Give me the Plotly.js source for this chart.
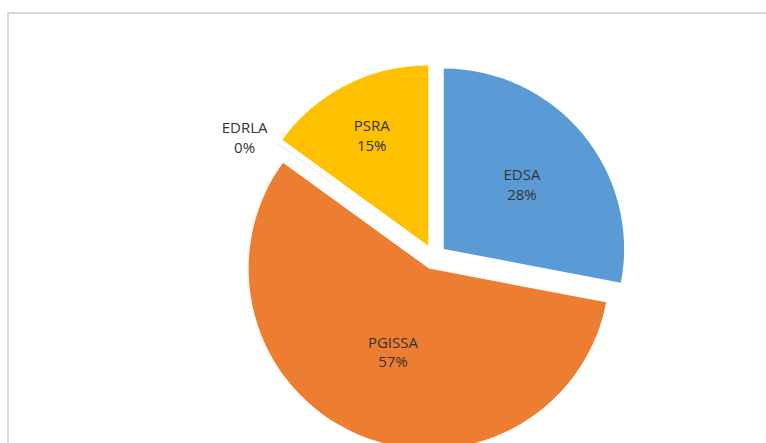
<!DOCTYPE html>
<html>
<head>
<meta charset="utf-8">
<script src="https://cdn.plot.ly/plotly-3.0.1.min.js"></script>
<style>
html,body{margin:0;padding:0;overflow:hidden;background:#fff;width:766px;height:443px;}
#chart{width:766px;height:470px;}
</style>
</head>
<body>
<div id="chart"></div>
<script>
const categories = ["EDSA", "PGISSA", "EDRLA", "PSRA"];
const values = [28, 57, 0.01, 15];
const colors = ["#5B9BD5", "#ED7D31", "#A5A5A5", "#FFC000"];

const W = 766, H = 470;
const cx = 434, cy = 257, R = 193;

const trace = {
  type: "pie",
  labels: categories,
  values: values,
  sort: false,
  direction: "clockwise",
  rotation: 0,
  pull: [0.07, 0.07, 0.07, 0.07],
  marker: {colors: colors, line: {color: "#ffffff", width: 0}},
  texttemplate: "%{label}<br>%{percent:.0%}",
  textposition: ["inside", "inside", "outside", "inside"],
  insidetextorientation: "horizontal",
  textfont: {family: "Open Sans, sans-serif", size: 15, color: "#333333"},
  outsidetextfont: {family: "Open Sans, sans-serif", size: 15, color: "#333333"},
  hoverinfo: "none",
  showlegend: false,
  domain: {x: [(cx - R) / W, (cx + R) / W], y: [1 - (cy + R) / H, 1 - (cy - R) / H]}
};

const layout = {
  width: W, height: H,
  margin: {l: 0, r: 0, t: 0, b: 0},
  paper_bgcolor: "#ffffff",
  showlegend: false,
  shapes: [{
    type: "rect", xref: "paper", yref: "paper",
    x0: 8 / W, x1: 1.05, y0: -0.1, y1: 1 - 13 / H,
    line: {color: "#d9d9d9", width: 2}, fillcolor: "rgba(0,0,0,0)"
  }]
};

Plotly.newPlot("chart", [trace], layout, {displayModeBar: false, staticPlot: true});
</script>
</body>
</html>
